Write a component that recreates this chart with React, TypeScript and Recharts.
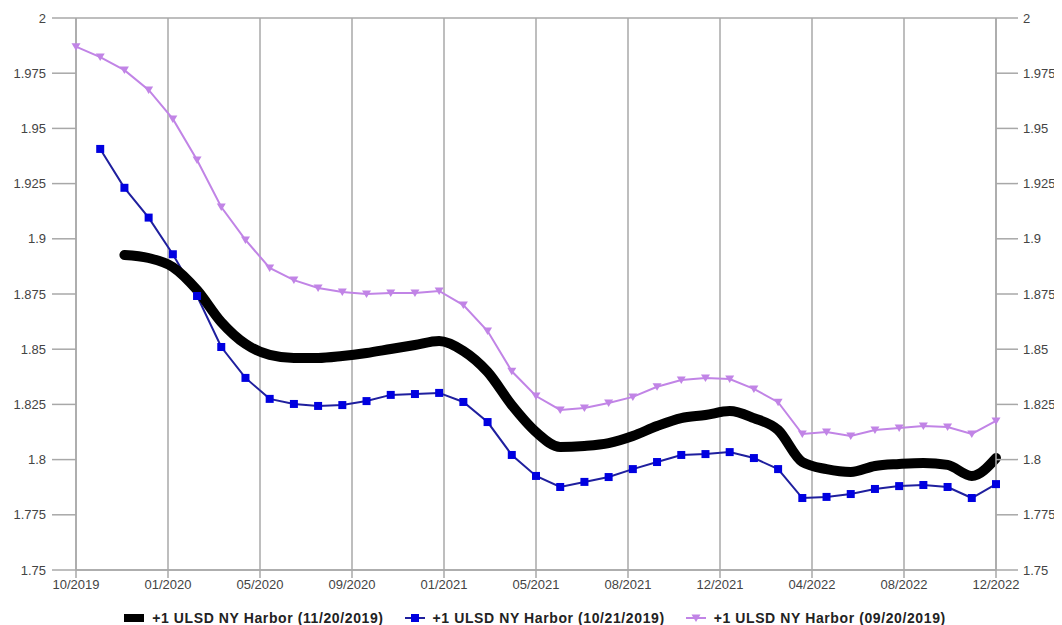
import React from "react";
import {
  LineChart,
  Line,
  XAxis,
  YAxis,
  CartesianGrid,
  Legend,
} from "recharts";

// month index 0 = 10/2019 ... 38 = 12/2022
const xTickLabels = [
  "10/2019",
  "01/2020",
  "05/2020",
  "09/2020",
  "01/2021",
  "05/2021",
  "08/2021",
  "12/2021",
  "04/2022",
  "08/2022",
  "12/2022",
];

const yTicks = [1.75, 1.775, 1.8, 1.825, 1.85, 1.875, 1.9, 1.925, 1.95, 1.975, 2];

// +1 ULSD NY Harbor (09/20/2019), starts 10/2019
const sep20 = [
  1.987, 1.9823, 1.9764, 1.9674, 1.9543, 1.9357, 1.9144, 1.8995, 1.8868, 1.8813,
  1.8777, 1.8759, 1.875, 1.8755, 1.8755, 1.8764, 1.87, 1.8582, 1.84, 1.8288,
  1.8225, 1.8234, 1.8256, 1.8284, 1.833, 1.836, 1.837, 1.8365, 1.832, 1.826,
  1.8116, 1.8125, 1.8107, 1.8134, 1.8143, 1.8152, 1.8148, 1.8116, 1.8175,
];

// +1 ULSD NY Harbor (10/21/2019), starts 11/2019
const oct21 = [
  1.9407, 1.9231, 1.9096, 1.893, 1.8741, 1.851, 1.837, 1.8275, 1.8252, 1.8243,
  1.8247, 1.8265, 1.8293, 1.8297, 1.8302, 1.8261, 1.817, 1.8021, 1.7926, 1.7876,
  1.7899, 1.7921, 1.7957, 1.7989, 1.8021, 1.8025, 1.8034, 1.8007, 1.7957, 1.7826,
  1.7831, 1.7844, 1.7867, 1.788, 1.7885, 1.7876, 1.7826, 1.7889,
];

// +1 ULSD NY Harbor (11/20/2019), starts 12/2019
const nov20 = [
  1.8927, 1.8913, 1.8872, 1.8768, 1.8623, 1.8524, 1.8474, 1.846, 1.846, 1.8469,
  1.8483, 1.8501, 1.8519, 1.8537, 1.8492, 1.8397, 1.8247, 1.8125, 1.8057, 1.8062,
  1.8075, 1.8107, 1.8152, 1.8188, 1.8202, 1.822, 1.8188, 1.8134, 1.7989, 1.7957,
  1.7944, 1.7971, 1.798, 1.7985, 1.7976, 1.7926, 1.8007,
];

const MONTHS = 39;
const X_MAX = 38;

const data = Array.from({ length: MONTHS }, (_, m) => ({
  m,
  sep: sep20[m] ?? null,
  oct: m >= 1 ? oct21[m - 1] ?? null : null,
  nov: m >= 2 ? nov20[m - 2] ?? null : null,
}));

const xTicks = xTickLabels.map((_, i) =>
  Number(((i * X_MAX) / (xTickLabels.length - 1)).toFixed(3))
);

const GRID = "#a8a8a8";
const BLUE_LINE = "#1f1f9e";
const BLUE_MARK = "#0000e0";
const PURPLE = "#c184e6";
const FONT = "'Liberation Sans', Arial, sans-serif";

function SquareDot(props: any) {
  const { cx, cy, index } = props;
  if (cx == null || cy == null || props.value == null) return <g key={`sq-${index}`} />;
  return (
    <rect key={`sq-${index}`} x={cx - 4} y={cy - 4} width={8} height={8} fill={BLUE_MARK} />
  );
}

function TriangleDot(props: any) {
  const { cx, cy, index } = props;
  if (cx == null || cy == null || props.value == null) return <g key={`tr-${index}`} />;
  return (
    <polygon
      key={`tr-${index}`}
      points={`${cx - 4.5},${cy - 3.5} ${cx + 4.5},${cy - 3.5} ${cx},${cy + 4}`}
      fill={PURPLE}
    />
  );
}

const legendItems = [
  { label: "+1 ULSD NY Harbor (11/20/2019)", kind: "black" },
  { label: "+1 ULSD NY Harbor (10/21/2019)", kind: "blue" },
  { label: "+1 ULSD NY Harbor (09/20/2019)", kind: "purple" },
];

function LegendIcon({ kind }: { kind: string }) {
  if (kind === "black") {
    return (
      <svg width={20} height={10}>
        <rect x={0} y={1} width={20} height={8} fill="#000" />
      </svg>
    );
  }
  if (kind === "blue") {
    return (
      <svg width={20} height={10}>
        <line x1={0} y1={5} x2={20} y2={5} stroke={BLUE_LINE} strokeWidth={2} />
        <rect x={6} y={1} width={8} height={8} fill={BLUE_MARK} />
      </svg>
    );
  }
  return (
    <svg width={20} height={10}>
      <line x1={0} y1={5} x2={20} y2={5} stroke={PURPLE} strokeWidth={2} />
      <polygon points="5.5,1.5 14.5,1.5 10,9" fill={PURPLE} />
    </svg>
  );
}

function ChartLegend() {
  return (
    <div
      style={{
        display: "flex",
        justifyContent: "center",
        alignItems: "center",
        gap: 21,
        height: 20,
        fontFamily: FONT,
        fontSize: 14,
        fontWeight: 700,
        letterSpacing: 0.6,
        color: "#222",
      }}
    >
      {legendItems.map((it) => (
        <div key={it.kind} style={{ display: "flex", alignItems: "center", gap: 8 }}>
          <LegendIcon kind={it.kind} />
          <span>{it.label}</span>
        </div>
      ))}
    </div>
  );
}

export default function App() {
  const tickStyle = { fontSize: 13, fill: "#444", fontFamily: FONT };
  return (
    <div style={{ width: 1054, height: 620 }}>
      <LineChart
        width={1054}
        height={620}
        data={data}
        margin={{ top: 10, right: 0, bottom: 0, left: 0 }}
      >
        <CartesianGrid stroke={GRID} strokeWidth={1.5} />
        <XAxis
          dataKey="m"
          type="number"
          domain={[0, X_MAX]}
          ticks={xTicks}
          interval={0}
          tickFormatter={(_v: number, i: number) => xTickLabels[i]}
          tick={tickStyle}
          tickSize={8}
          tickMargin={2}
          height={38}
          stroke={GRID}
          strokeWidth={1.5}
        />
        <YAxis
          yAxisId="left"
          domain={[1.75, 2]}
          ticks={yTicks}
          interval={0}
          tick={tickStyle}
          tickSize={24}
          tickMargin={6}
          width={68}
          stroke={GRID}
          strokeWidth={1.5}
        />
        <YAxis
          yAxisId="right"
          orientation="right"
          domain={[1.75, 2]}
          ticks={yTicks}
          interval={0}
          tick={tickStyle}
          tickSize={22}
          tickMargin={5}
          width={66}
          stroke={GRID}
          strokeWidth={1.5}
        />
        <Legend verticalAlign="bottom" height={20} content={<ChartLegend />} />
        <Line
          yAxisId="left"
          dataKey="sep"
          type="linear"
          stroke={PURPLE}
          strokeWidth={2}
          dot={<TriangleDot />}
          activeDot={false}
          isAnimationActive={false}
        />
        <Line
          yAxisId="left"
          dataKey="oct"
          type="linear"
          stroke={BLUE_LINE}
          strokeWidth={2}
          dot={<SquareDot />}
          activeDot={false}
          isAnimationActive={false}
        />
        <Line
          yAxisId="right"
          dataKey="nov"
          type="monotone"
          stroke="#000"
          strokeWidth={10}
          strokeLinecap="round"
          strokeLinejoin="round"
          dot={false}
          activeDot={false}
          isAnimationActive={false}
        />
      </LineChart>
    </div>
  );
}
